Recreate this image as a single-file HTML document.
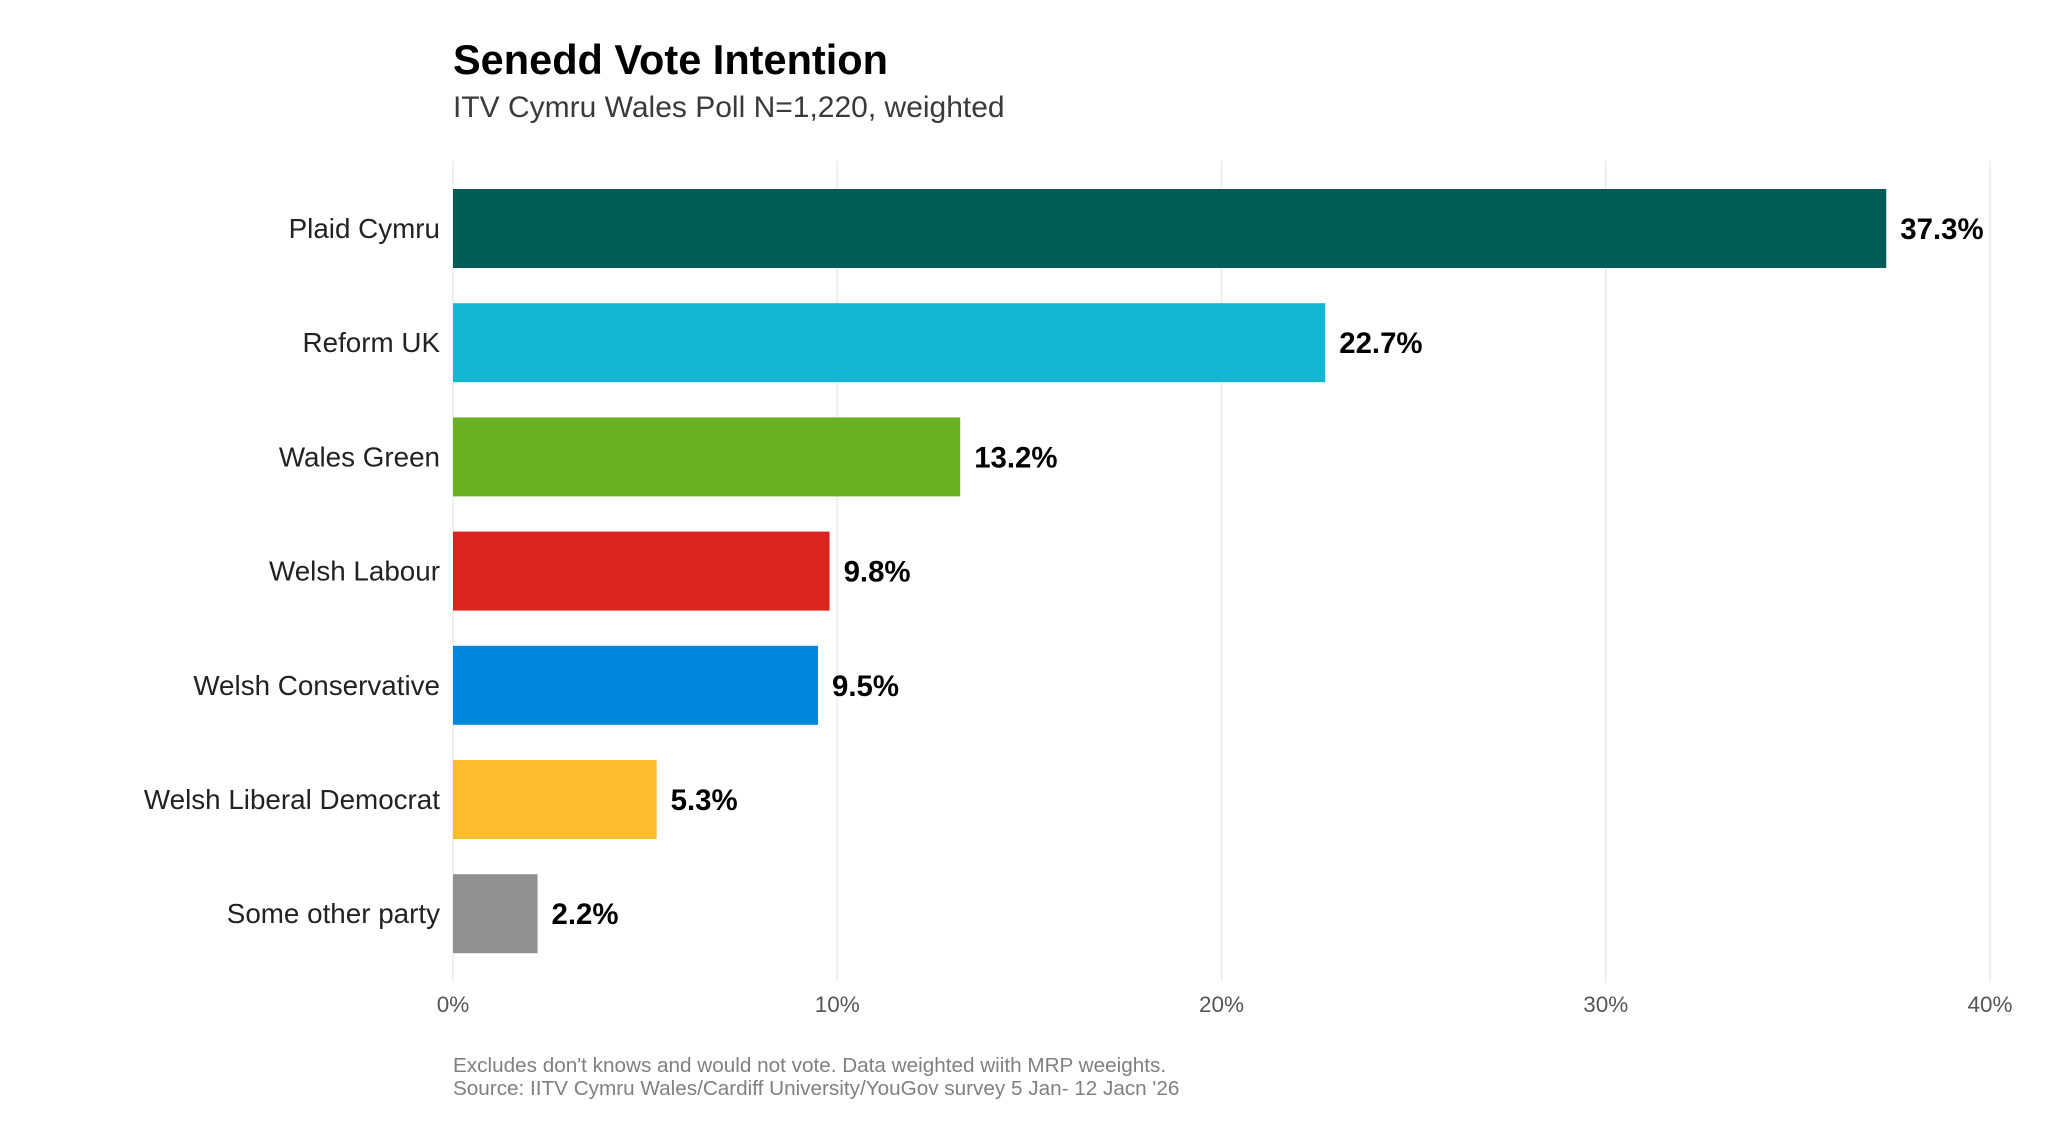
<!DOCTYPE html>
<html><head><meta charset="utf-8"><style>
body{margin:0;background:#fff;}
svg{display:block;font-family:"Liberation Sans",sans-serif;}
</style></head><body>
<svg id="chart" width="2048" height="1146">
<text x="453" y="74" font-size="41.5" font-weight="bold" fill="#000">Senedd Vote Intention</text>
<text x="453" y="117" font-size="30" fill="#3a3a3a">ITV Cymru Wales Poll N=1,220, weighted</text>
<g id="grid"></g><g id="bars"></g><g id="ticks"></g>
<text x="453" y="1072" font-size="20.7" fill="#808080">Excludes don't knows and would not vote. Data weighted wiith MRP weeights.</text>
<text x="453" y="1095" font-size="20.7" fill="#808080">Source: IITV Cymru Wales/Cardiff University/YouGov survey 5 Jan- 12 Jacn '26</text>
</svg>
<script>
const categories=["Plaid Cymru","Reform UK","Wales Green","Welsh Labour","Welsh Conservative","Welsh Liberal Democrat","Some other party"];
const values=[37.3,22.7,13.2,9.8,9.5,5.3,2.2];
const colors=["#005c55","#14b6d1","#6ab023","#dc241f","#0087dc","#fdbb30","#909090"];
const ticks=[0,10,20,30,40];
const tickLabels=["0%","10%","20%","30%","40%"];
const NS="http://www.w3.org/2000/svg";
const x0=453,x1=1990,xmax=40,firstC=228.5,step=114.2,bh=79;
const xs=v=>x0+(x1-x0)*v/xmax;
const yc=i=>firstC+i*step;
function mk(t,a,p){const e=document.createElementNS(NS,t);for(const k in a)e.setAttribute(k,a[k]);p.appendChild(e);return e;}
const G=document.getElementById('grid'),B=document.getElementById('bars'),T=document.getElementById('ticks');
ticks.forEach((t,i)=>{
 const l=mk('line',{x1:xs(t),x2:xs(t),y1:161,y2:982,stroke:'#ebebeb','stroke-width':1.5},G);
 
 
 const tx=mk('text',{x:xs(t),y:1012,'font-size':22.5,fill:'#555','text-anchor':'middle'},T);
 tx.textContent=tickLabels[i];
 
 
});
categories.forEach((c,i)=>{
 const y=yc(i);
 const r=mk('rect',{x:x0,y:y-bh/2,width:xs(values[i])-x0,height:bh,fill:colors[i]},B);
 
 
 const lab=mk('text',{x:440,y:y+9.5,'font-size':27.8,fill:'#222','text-anchor':'end'},B);
 lab.textContent=c;
 
 
 const v=mk('text',{x:xs(values[i])+14,y:y+10.5,'font-size':29.4,'font-weight':'bold',fill:'#000'},B);
 v.textContent=values[i].toFixed(1)+'%';
 
 
});
</script>
</body></html>
